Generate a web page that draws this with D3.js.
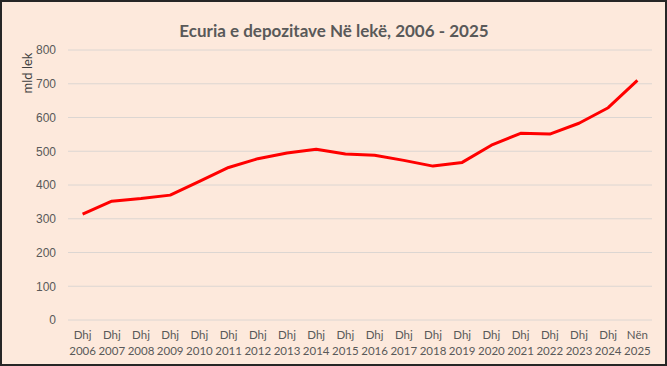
<!DOCTYPE html>
<html>
<head>
<meta charset="utf-8">
<script src="https://cdn.jsdelivr.net/npm/d3@7"></script>
<style>
  html, body { margin: 0; padding: 0; background: #fff; }
  svg { display: block; font-family: Lato, "Open Sans", sans-serif; }
</style>
</head>
<body>
<svg></svg>
<script>
var months = ["Dhj", "Dhj", "Dhj", "Dhj", "Dhj", "Dhj", "Dhj", "Dhj", "Dhj", "Dhj",
	"Dhj", "Dhj", "Dhj", "Dhj", "Dhj", "Dhj", "Dhj", "Dhj", "Dhj", "Nën"];
var years = ["2006", "2007", "2008", "2009", "2010", "2011", "2012", "2013", "2014", "2015",
	"2016", "2017", "2018", "2019", "2020", "2021", "2022", "2023", "2024", "2025"];
var deposits = [314, 352, 360, 370, 411, 452, 478, 495, 506, 492,
	488, 473, 456, 467, 518, 553, 551, 583, 629, 710];
var yTicks = [0, 100, 200, 300, 400, 500, 600, 700, 800];

var svgWidth = 667;
var svgHeight = 366;
var margin = {top: 50, right: 15, bottom: 46, left: 68};

var svg = d3.select("svg")
	.attr("width", svgWidth)
	.attr("height", svgHeight);

// background + frame
svg.append("rect")
	.attr("x", 1).attr("y", 1)
	.attr("width", svgWidth - 2).attr("height", svgHeight - 2)
	.attr("fill", "#fde9dc")
	.attr("stroke", "#262626")
	.attr("stroke-width", 2);

var xScale = d3.scaleBand()
	.domain(d3.range(years.length))
	.range([margin.left, svgWidth - margin.right]);

var yScale = d3.scaleLinear()
	.domain([0, 800])
	.range([svgHeight - margin.bottom, margin.top]);

// gridlines
svg.append("g")
	.selectAll("line")
	.data(yTicks)
	.enter()
	.append("line")
	.attr("x1", margin.left)
	.attr("x2", svgWidth - margin.right)
	.attr("y1", function(d) { return yScale(d); })
	.attr("y2", function(d) { return yScale(d); })
	.attr("stroke", "#dcd6d2")
	.attr("stroke-width", 1);

var y_axis = d3.axisLeft(yScale)
	.tickValues(yTicks)
	.tickSize(0)
	.tickPadding(12);

svg.append("g")
	.attr("transform", "translate(" + margin.left + ",0)")
	.call(y_axis)
	.call(function(g) { g.select(".domain").remove(); })
	.selectAll("text")
	.attr("fill", "#595959")
	.attr("font-size", 12);

// two-line category labels
var xLabels = svg.append("g")
	.selectAll("text")
	.data(years)
	.enter()
	.append("text")
	.attr("text-anchor", "middle")
	.attr("fill", "#595959")
	.attr("font-size", 11.5)
	.attr("x", function(d, i) { return xScale(i) + xScale.bandwidth() / 2; });

xLabels.append("tspan")
	.attr("y", 339)
	.attr("x", function(d, i) { return xScale(i) + xScale.bandwidth() / 2; })
	.text(function(d, i) { return months[i]; });

xLabels.append("tspan")
	.attr("y", 355)
	.attr("x", function(d, i) { return xScale(i) + xScale.bandwidth() / 2; })
	.text(function(d) { return d; });

// the line
var line = d3.line()
	.x(function(d, i) { return xScale(i) + xScale.bandwidth() / 2; })
	.y(function(d) { return yScale(d); });

svg.append("path")
	.datum(deposits)
	.attr("d", line)
	.attr("fill", "none")
	.attr("stroke", "#ff0000")
	.attr("stroke-width", 3)
	.attr("stroke-linejoin", "round");

// titles
svg.append("text")
	.attr("x", 334)
	.attr("y", 37)
	.attr("text-anchor", "middle")
	.attr("font-size", 17)
	.attr("font-weight", "bold")
	.attr("fill", "#595959")
	.text("Ecuria e depozitave Në lekë, 2006 - 2025");

svg.append("text")
	.attr("transform", "translate(32,73) rotate(-90)")
	.attr("text-anchor", "middle")
	.attr("font-size", 13)
	.attr("fill", "#404040")
	.text("mld lek");
</script>
</body>
</html>
